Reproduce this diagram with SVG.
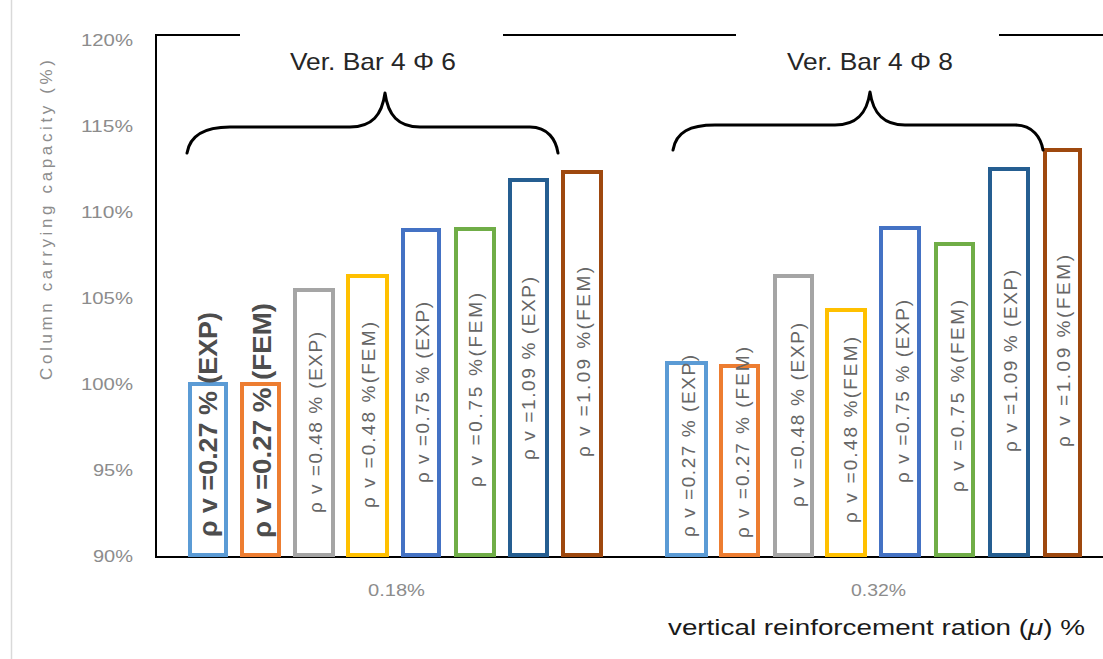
<svg xmlns="http://www.w3.org/2000/svg" width="1103" height="659" viewBox="0 0 1103 659">
  <style>
    .tick { font-family: "Liberation Sans", Arial, sans-serif; font-size: 16px; fill: #8c8c8c; }
    .cat { font-family: "Liberation Sans", Arial, sans-serif; font-size: 16px; fill: #8c8c8c; }
    .ytitle { font-family: "Liberation Sans", Arial, sans-serif; font-size: 17px; fill: #8c8c8c; }
    .xtitle { font-family: "Liberation Sans", Arial, sans-serif; font-size: 22px; fill: #1a1a1a; }
    .grp { font-family: "Liberation Sans", Arial, sans-serif; font-size: 24px; fill: #262626; }
    .lbl { font-family: "Liberation Sans", Arial, sans-serif; font-size: 19px; fill: #666666; }
    .lbl.b { font-weight: bold; font-size: 25px; fill: #4d4d4d; }
    .bar { fill: #ffffff; stroke-width: 4; }
    .axis { stroke: #000000; stroke-width: 2; fill: none; }
    .brace { stroke: #000000; stroke-width: 3; fill: none; stroke-linecap: round; stroke-linejoin: round; }
  </style>

  <rect x="0" y="0" width="1103" height="659" fill="#ffffff"/>
  <line x1="11.5" y1="0" x2="11.5" y2="659" stroke="#d9d9d9" stroke-width="1.5"/>

  <!-- frame and axes -->
  <g id="axes">
    <line class="axis" x1="156" y1="34" x2="156" y2="557"/>
    <line class="axis" x1="155" y1="35" x2="240" y2="35"/>
    <line class="axis" x1="503" y1="35" x2="736" y2="35"/>
    <line class="axis" x1="999" y1="35" x2="1103" y2="35"/>
    <line class="axis" x1="155" y1="557" x2="1103" y2="557"/>
  </g>

  <!-- y ticks -->
  <g id="y-ticks">
    <text class="tick" x="81" y="46" textLength="52" lengthAdjust="spacingAndGlyphs">120%</text>
    <text class="tick" x="81" y="132" textLength="52" lengthAdjust="spacingAndGlyphs">115%</text>
    <text class="tick" x="81" y="218" textLength="52" lengthAdjust="spacingAndGlyphs">110%</text>
    <text class="tick" x="81" y="304" textLength="52" lengthAdjust="spacingAndGlyphs">105%</text>
    <text class="tick" x="81" y="390" textLength="52" lengthAdjust="spacingAndGlyphs">100%</text>
    <text class="tick" x="93" y="476" textLength="40" lengthAdjust="spacingAndGlyphs">95%</text>
    <text class="tick" x="93" y="562" textLength="40" lengthAdjust="spacingAndGlyphs">90%</text>
  </g>
  <text class="ytitle" transform="translate(52,380) rotate(-90)" textLength="320" lengthAdjust="spacing">Column carrying capacity (%)</text>

  <!-- group 1 bars -->
  <g id="group1">
    <rect class="bar" x="190" y="384" width="36" height="171" stroke="#5b9bd5"/>
    <rect class="bar" x="242" y="384" width="37" height="171" stroke="#ed7d31"/>
    <rect class="bar" x="295" y="290" width="38" height="265" stroke="#a5a5a5"/>
    <rect class="bar" x="348" y="276" width="39" height="279" stroke="#ffc000"/>
    <rect class="bar" x="403" y="230" width="36" height="325" stroke="#4472c4"/>
    <rect class="bar" x="456" y="229" width="38" height="326" stroke="#70ad47"/>
    <rect class="bar" x="510" y="180" width="37" height="375" stroke="#255e91"/>
    <rect class="bar" x="563" y="172" width="38" height="383" stroke="#9e480e"/>
  </g>

  <!-- group 2 bars -->
  <g id="group2">
    <rect class="bar" x="667" y="363" width="39" height="192" stroke="#5b9bd5"/>
    <rect class="bar" x="721" y="366" width="37" height="189" stroke="#ed7d31"/>
    <rect class="bar" x="775" y="276" width="37" height="279" stroke="#a5a5a5"/>
    <rect class="bar" x="827" y="310" width="38" height="245" stroke="#ffc000"/>
    <rect class="bar" x="881" y="228" width="38" height="327" stroke="#4472c4"/>
    <rect class="bar" x="936" y="244" width="37" height="311" stroke="#70ad47"/>
    <rect class="bar" x="990" y="169" width="38" height="386" stroke="#255e91"/>
    <rect class="bar" x="1045" y="150" width="35" height="405" stroke="#9e480e"/>
  </g>

  <!-- bar labels, group 1 -->
  <g id="labels1">
    <text class="lbl b" transform="translate(217,537) rotate(-90)" textLength="225" lengthAdjust="spacingAndGlyphs">ρ v =0.27 % (EXP)</text>
    <text class="lbl b" transform="translate(271,538) rotate(-90)" textLength="235" lengthAdjust="spacingAndGlyphs">ρ v =0.27 % (FEM)</text>
    <text class="lbl" transform="translate(322,513) rotate(-90)" textLength="181" lengthAdjust="spacing">ρ v =0.48 % (EXP)</text>
    <text class="lbl" transform="translate(375,508) rotate(-90)" textLength="186" lengthAdjust="spacing">ρ v =0.48 %(FEM)</text>
    <text class="lbl" transform="translate(429,483) rotate(-90)" textLength="181" lengthAdjust="spacing">ρ v =0.75 % (EXP)</text>
    <text class="lbl" transform="translate(482,487) rotate(-90)" textLength="194" lengthAdjust="spacing">ρ v =0.75  %(FEM)</text>
    <text class="lbl" transform="translate(535,460) rotate(-90)" textLength="183" lengthAdjust="spacing">ρ v =1.09 % (EXP)</text>
    <text class="lbl" transform="translate(590,457) rotate(-90)" textLength="190" lengthAdjust="spacing">ρ v =1.09  %(FEM)</text>
  </g>

  <!-- bar labels, group 2 -->
  <g id="labels2">
    <text class="lbl" transform="translate(695,537) rotate(-90)" textLength="182" lengthAdjust="spacing">ρ v =0.27 % (EXP)</text>
    <text class="lbl" transform="translate(749,538) rotate(-90)" textLength="191" lengthAdjust="spacing">ρ v =0.27 % (FEM)</text>
    <text class="lbl" transform="translate(804,507) rotate(-90)" textLength="184" lengthAdjust="spacing">ρ v =0.48 % (EXP)</text>
    <text class="lbl" transform="translate(857,523) rotate(-90)" textLength="186" lengthAdjust="spacing">ρ v =0.48 %(FEM)</text>
    <text class="lbl" transform="translate(909,483) rotate(-90)" textLength="183" lengthAdjust="spacing">ρ v =0.75 % (EXP)</text>
    <text class="lbl" transform="translate(964,492) rotate(-90)" textLength="192" lengthAdjust="spacing">ρ v =0.75  %(FEM)</text>
    <text class="lbl" transform="translate(1017,452) rotate(-90)" textLength="182" lengthAdjust="spacing">ρ v =1.09 % (EXP)</text>
    <text class="lbl" transform="translate(1070,447) rotate(-90)" textLength="192" lengthAdjust="spacing">ρ v =1.09 %(FEM)</text>
  </g>

  <!-- group braces -->
  <g id="brace1">
    <path class="brace" d="M187,153 C190,135 205,127 230,127 L350,127 C372,127 382,115 385,93 C388,115 398,127 420,127 L530,127 C548,127 556,140 558,153"/>
    <text class="grp" x="290" y="70" textLength="166" lengthAdjust="spacingAndGlyphs">Ver. Bar 4 Φ 6</text>
  </g>
  <g id="brace2">
    <path class="brace" d="M673,150 C676,132 690,125 715,125 L835,125 C857,125 867,113 870,92 C873,113 883,125 905,125 L1015,125 C1033,125 1041,138 1043,150"/>
    <text class="grp" x="787" y="70" textLength="166" lengthAdjust="spacingAndGlyphs">Ver. Bar 4 Φ 8</text>
  </g>

  <!-- category labels and x title -->
  <text class="cat" x="368" y="596" textLength="57" lengthAdjust="spacingAndGlyphs">0.18%</text>
  <text class="cat" x="851" y="596" textLength="55" lengthAdjust="spacingAndGlyphs">0.32%</text>
  <text class="xtitle" x="668" y="635" textLength="417" lengthAdjust="spacingAndGlyphs">vertical reinforcement ration (<tspan font-style="italic">μ</tspan>) %</text>
</svg>
